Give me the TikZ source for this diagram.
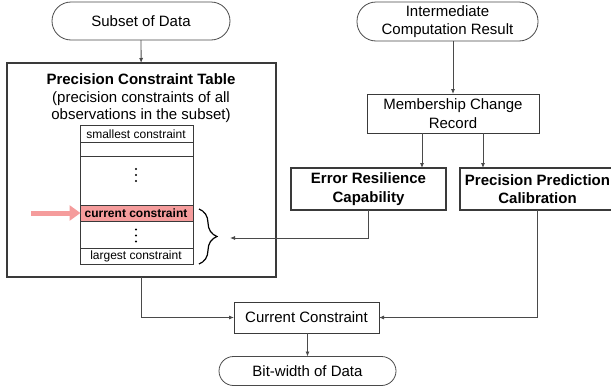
\documentclass[tikz,border=0pt]{standalone}
\usepackage{fontspec}
\setmainfont{Liberation Sans}
\usetikzlibrary{arrows.meta,decorations.pathreplacing}
\definecolor{linegray}{HTML}{4A4A4A}
\definecolor{boxgray}{HTML}{3A3A3A}
\definecolor{pinkc}{HTML}{F59C9C}
\begin{document}
\begin{tikzpicture}[x=1pt,y=-1pt,
  every node/.style={inner sep=0pt,outer sep=0pt,font=\fontsize{15}{18.5}\selectfont},
  box/.style={draw=boxgray,line width=0.9pt,align=center},
  boldbox/.style={draw=boxgray,line width=1.8pt,align=center,font=\fontsize{15}{18.5}\selectfont\bfseries},
  term/.style={draw=linegray,line width=0.8pt,align=center,rounded corners=#1},
  arr/.style={draw=linegray,line width=0.8pt,-{Latex[length=5pt,width=4pt]}},
  ln/.style={draw=linegray,line width=0.8pt},
  small/.style={font=\fontsize{12}{14}\selectfont},
  rowline/.style={draw=boxgray,line width=0.7pt},
  dotc/.style={fill=black,circle,minimum size=2.2pt}
]
\useasboundingbox (0,0) rectangle (611,386);
\clip (0,0) rectangle (611,386);

% terminals
\node[term=19pt,minimum width=178pt,minimum height=38pt] (subset) at (141,21) {Subset of Data};
\node[term=19pt,minimum width=181pt,minimum height=39pt] (inter) at (447.5,21.5) {Intermediate\\Computation Result};
\node[term=14.5pt,minimum width=177pt,minimum height=29pt] (bit) at (307.5,371) {Bit-width of Data};

% big box
\node[draw=boxgray,line width=1.6pt,minimum width=269pt,minimum height=214pt] (big) at (141.5,170) {};
\node[anchor=base,font=\fontsize{15}{18}\selectfont\bfseries] (title) at (141,84) {Precision Constraint Table};
\node[anchor=base] (sub1) at (141,102) {(precision constraints of all};
\node[anchor=base] (sub2) at (141,119.5) {observations in the subset)};

% inner table
\node[fill=pinkc,minimum width=112.5pt,minimum height=16pt] (currow) at (136.75,213) {};
\node[rowline,draw,minimum width=112.5pt,minimum height=139pt] (table) at (136.75,194.5) {};
\draw[rowline] (80.5,142) -- (193,142);
\draw[rowline] (80.5,156) -- (193,156);
\draw[rowline] (80.5,205) -- (193,205);
\draw[rowline] (80.5,221) -- (193,221);
\draw[rowline] (80.5,248) -- (193,248);
\node[small] (smallest) at (136,134) {smallest constraint};
\node[small,font=\fontsize{12}{14}\selectfont\bfseries] (curtxt) at (136,213) {current constraint};
\node[small] (largest) at (136,256.5) {largest constraint};
\node[dotc] (d1) at (136,169) {};
\node[dotc] (d2) at (136,175) {};
\node[dotc] (d3) at (136,181) {};
\node[dotc] (d4) at (136,229.5) {};
\node[dotc] (d5) at (136,235.5) {};
\node[dotc] (d6) at (136,241.5) {};

% pink arrow
\coordinate (pstart) at (31,213);
\draw[pinkc,line width=5pt,-{Triangle[length=11pt,width=15pt]}] (pstart) -- (currow.west);

% brace
\coordinate (btop) at (199,209);
\coordinate (bbot) at (199,264);
\draw[black,line width=1.2pt,decorate,decoration={brace,amplitude=18pt}] (btop) -- (bbot);
\coordinate (btip) at (230,238);

% right side boxes
\node[box,minimum width=172pt,minimum height=39pt] (memb) at (453,113.5) {Membership Change\\Record};
\node[boldbox,minimum width=155pt,minimum height=42pt] (err) at (368.5,189) {Error Resilience\\Capability};
\node[boldbox,minimum width=155pt,minimum height=42pt] (prec) at (537.5,189) {Precision Prediction\\Calibration};
\node[box,minimum width=145pt,minimum height=31pt] (cur) at (306.5,317.5) {Current Constraint};

% connectors
\draw[arr] (subset) -- (big);
\draw[arr] (inter.south -| memb.north) -- (memb.north);
\draw[arr] ([xshift=-31pt]memb.south) -- ([xshift=-31pt]memb.south |- err.north);
\draw[arr] ([xshift=30pt]memb.south) -- ([xshift=30pt]memb.south |- prec.north);
\draw[arr] (err.south) |- (btip);
\draw[arr] (prec.south) |- (cur.east);
\draw[arr] (big.south) |- (cur.west);
\draw[arr] (cur.south -| bit.north) -- (bit.north);
\end{tikzpicture}
\end{document}
